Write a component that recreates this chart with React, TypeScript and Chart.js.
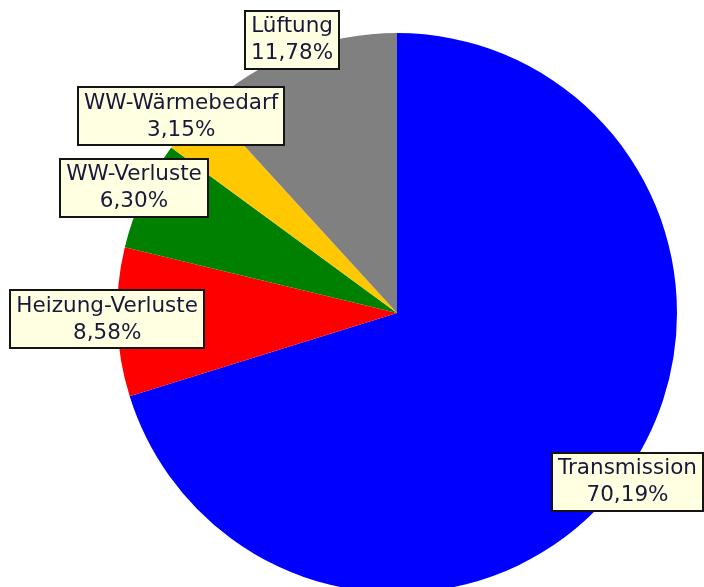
import React, { useEffect, useRef } from "react";
import { Chart, registerables } from "chart.js";

Chart.register(...registerables);

const categories = ["Transmission", "Heizung-Verluste", "WW-Verluste", "WW-Wärmebedarf", "Lüftung"];
const values = [70.19, 8.58, 6.3, 3.15, 11.78];
const valueLabels = ["70,19%", "8,58%", "6,30%", "3,15%", "11,78%"];
const colors = ["#0000FF", "#FF0000", "#008000", "#FFC800", "#808080"];

const markPlugin = {
  id: "marks",
  afterDraw(chart: any) {
    const ctx = chart.ctx;
    const meta = chart.getDatasetMeta(0);
    const W = chart.width;
    ctx.save();
    ctx.font = "21.5px 'DejaVu Sans'";
    ctx.textAlign = "center";
    ctx.textBaseline = "middle";
    meta.data.forEach((arc: any, i: number) => {
      const p = arc.getProps(["x", "y", "startAngle", "endAngle", "outerRadius"], true);
      const mid = (p.startAngle + p.endAngle) / 2;
      const r = p.outerRadius + 10;
      let cx = p.x + r * Math.cos(mid);
      const cy = p.y + r * Math.sin(mid) - 3;
      const l1 = categories[i];
      const l2 = valueLabels[i];
      const tw = Math.max(ctx.measureText(l1).width, ctx.measureText(l2).width);
      const bw = Math.round(tw + 12);
      const bh = 58;
      if (cx + bw / 2 > W - 1) cx = W - 1 - bw / 2;
      if (cx - bw / 2 < 1) cx = 1 + bw / 2;
      const bx = Math.round(cx - bw / 2);
      const by = Math.round(cy - bh / 2);
      ctx.fillStyle = "#FFFFE1";
      ctx.fillRect(bx, by, bw, bh);
      ctx.strokeStyle = "#141414";
      ctx.lineWidth = 2;
      ctx.strokeRect(bx, by, bw, bh);
      ctx.fillStyle = "#18183a";
      ctx.fillText(l1, cx, cy - 13);
      ctx.fillText(l2, cx, cy + 14);
    });
    ctx.restore();
  },
};

export default function App() {
  const ref = useRef<HTMLCanvasElement>(null);
  useEffect(() => {
    if (!ref.current) return;
    const chart = new Chart(ref.current, {
      type: "pie",
      data: {
        labels: categories,
        datasets: [
          {
            data: values,
            backgroundColor: colors,
            borderWidth: 0,
          },
        ],
      },
      options: {
        animation: false,
        responsive: false,
        devicePixelRatio: 1,
        layout: { padding: { top: 33, bottom: 33, left: 117, right: 27 } },
        plugins: {
          legend: { display: false },
          tooltip: { enabled: false },
        },
      },
      plugins: [markPlugin],
    });
    return () => chart.destroy();
  }, []);
  return (
    <div
      style={{
        position: "fixed",
        left: 0,
        top: 0,
        width: 704,
        height: 587,
        overflow: "hidden",
        background: "#fff",
      }}
    >
      <canvas ref={ref} width={704} height={626} style={{ display: "block" }} />
    </div>
  );
}
